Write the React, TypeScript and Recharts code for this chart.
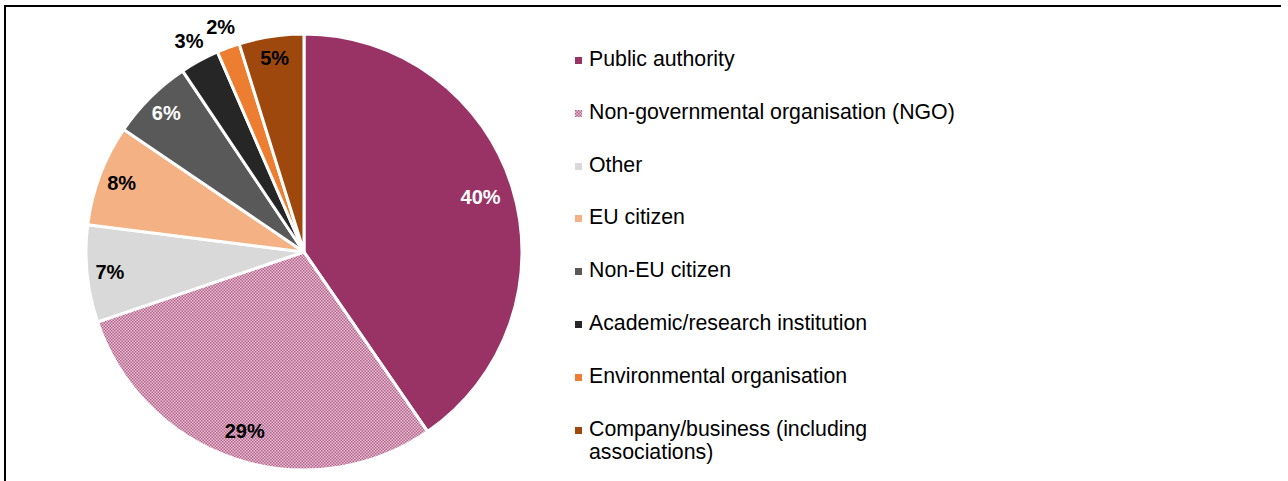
import React from "react";
import { PieChart, Pie, Cell, Legend } from "recharts";

const categories = [
  "Public authority",
  "Non-governmental organisation (NGO)",
  "Other",
  "EU citizen",
  "Non-EU citizen",
  "Academic/research institution",
  "Environmental organisation",
  "Company/business (including associations)",
];
const shares = [40.4, 29.4, 7.2, 7.5, 6.1, 2.9, 1.7, 4.8];
const colors = [
  "#993366",
  "url(#ngoPattern)",
  "#d9d9d9",
  "#f4b183",
  "#595959",
  "#262626",
  "#ed7d31",
  "#9e480e",
];
const labelColors = ["#ffffff", "#000000", "#000000", "#000000", "#ffffff", "#000000", "#000000", "#000000"];

const data = categories.map((name, i) => ({ name, value: shares[i] }));

const FONT = "'Liberation Sans', Arial, sans-serif";
const RAD = Math.PI / 180;

const renderLabel = (props: any) => {
  const { cx, cy, midAngle, outerRadius, value, index } = props;
  const r = value < 4 ? outerRadius + 22 : outerRadius * (0.905 - 0.0014 * value);
  const x = cx + r * Math.cos(-midAngle * RAD);
  const y = cy + r * Math.sin(-midAngle * RAD);
  return (
    <text
      x={x}
      y={y}
      textAnchor="middle"
      dominantBaseline="central"
      fill={labelColors[index]}
      style={{ fontFamily: FONT, fontWeight: 700, fontSize: 20 }}
    >
      {`${Math.round(value)}%`}
    </text>
  );
};

const LegendContent = () => (
  <div style={{ fontFamily: FONT, fontSize: 21.3, color: "#000" }}>
    {categories.map((c, i) => (
      <div key={c} style={{ display: "flex", alignItems: "flex-start", height: 52.8 }}>
        <svg width={14} height={24} style={{ flex: "0 0 auto" }}>
          <rect x={0} y={9} width={7} height={7} fill={colors[i]} />
        </svg>
        <div style={{ width: 385, lineHeight: "23px" }}>{c}</div>
      </div>
    ))}
  </div>
);

export default function App() {
  return (
    <div style={{ position: "absolute", left: 0, top: 0, width: 1288, height: 481, background: "#fff" }}>
      <div style={{ position: "absolute", left: 4, top: 5, width: 1277, height: 2, background: "#000" }} />
      <div style={{ position: "absolute", left: 4, top: 5, width: 2, height: 476, background: "#000" }} />
      <PieChart width={1288} height={481} margin={{ top: 0, right: 0, bottom: 0, left: 0 }}>
        <defs>
          <pattern id="ngoPattern" width="3" height="3" patternUnits="userSpaceOnUse">
            <rect width="3" height="3" fill="#e6c2d5" />
            <rect width="1.5" height="1.5" fill="#b4618a" />
            <rect x="1.5" y="1.5" width="1.5" height="1.5" fill="#b4618a" />
          </pattern>
        </defs>
        <Pie
          data={data}
          dataKey="value"
          nameKey="name"
          cx={304}
          cy={252}
          outerRadius={218}
          startAngle={90}
          endAngle={-270}
          stroke="#ffffff"
          strokeWidth={3}
          label={renderLabel}
          labelLine={false}
          isAnimationActive={false}
        >
          {data.map((d, i) => (
            <Cell key={d.name} fill={colors[i]} />
          ))}
        </Pie>
        <Legend
          content={<LegendContent />}
          wrapperStyle={{ position: "absolute", left: 575, top: 48, width: 420 }}
        />
      </PieChart>
    </div>
  );
}
